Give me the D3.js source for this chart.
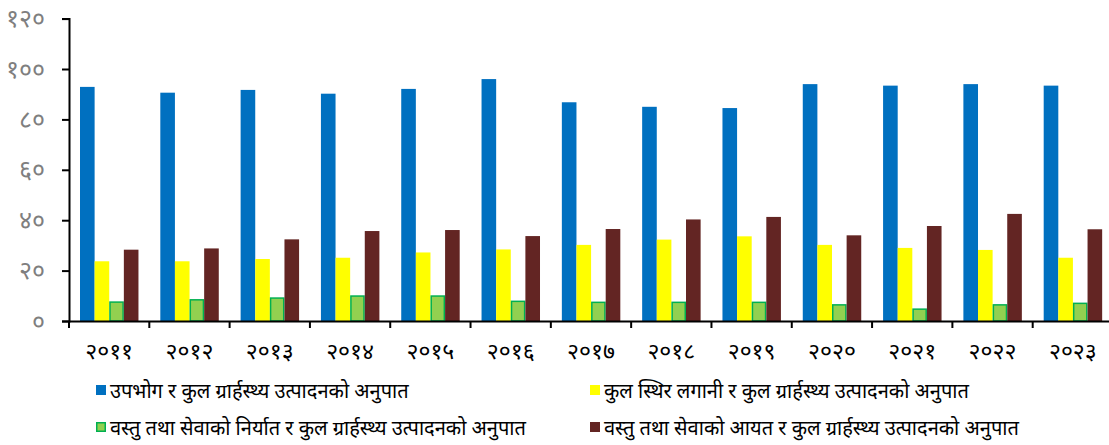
<!DOCTYPE html>
<html><head><meta charset="utf-8">
<script src="https://cdn.jsdelivr.net/npm/d3@7"></script>
<style>
html,body{margin:0;padding:0;background:#fff;}
svg{display:block;}
text{font-family:"Noto Sans","DejaVu Sans",sans-serif;}
</style></head>
<body><svg id="c" width="1109" height="445"></svg>
<script>
const years = ["२०११","२०१२","२०१३","२०१४","२०१५","२०१६","२०१७","२०१८","२०१९","२०२०","२०२१","२०२२","२०२३"];
const seriesNames = [
  "उपभोग र कुल ग्रार्हस्थ्य उत्पादनको अनुपात",
  "कुल स्थिर लगानी र कुल ग्रार्हस्थ्य उत्पादनको अनुपात",
  "वस्तु तथा सेवाको निर्यात र कुल ग्रार्हस्थ्य उत्पादनको अनुपात",
  "वस्तु तथा सेवाको आयत र कुल ग्रार्हस्थ्य उत्पादनको अनुपात"
];
const consumption = [92.9,90.6,91.7,90.2,92.1,96.0,86.8,85.0,84.5,94.0,93.4,94.0,93.4];
const investment  = [23.7,23.7,24.6,25.1,27.2,28.4,30.2,32.3,33.6,30.2,29.0,28.2,25.1];
const exports_    = [7.8,8.7,9.4,10.2,10.2,8.1,7.7,7.7,7.7,6.7,5.0,6.7,7.3];
const imports_    = [28.3,28.8,32.4,35.7,36.1,33.7,36.5,40.3,41.3,34.0,37.7,42.5,36.4];
const yTicks = [0,20,40,60,80,100,120];
const yTickLabels = ["०","२०","४०","६०","८०","१००","१२०"];

const fills = ["#0070C0","#FFFF00","#92D050","#632523"];
const strokes = [null,null,"#00B050",null];
const seriesVals = [consumption, investment, exports_, imports_];

const svg = d3.select("#c");
const x0 = d3.scaleBand().domain(years).range([69,1113]).paddingInner(0).paddingOuter(0);
const y = d3.scaleLinear().domain([0,120]).range([321,18.6]);
const bw = x0.bandwidth();
const x1 = d3.scaleBand().domain(d3.range(4)).range([bw*0.137, bw*0.865]).padding(0);

// bars
const g = svg.append("g");
years.forEach((yr,i)=>{
  const gg = g.append("g").attr("transform",`translate(${x0(yr)},0)`);
  seriesVals.forEach((vals,s)=>{
    const r = gg.append("rect")
      .attr("x", x1(s)).attr("width", x1.bandwidth())
      .attr("y", y(vals[i])).attr("height", y(0)-y(vals[i]))
      .attr("fill", fills[s]);
    if (strokes[s]) {
      r.attr("x", x1(s)+0.75).attr("width", x1.bandwidth()-1.5)
       .attr("y", y(vals[i])+0.75).attr("height", y(0)-y(vals[i])-0.75)
       .attr("stroke", strokes[s]).attr("stroke-width",1.5);
    }
  });
});

// y axis
const ya = svg.append("g").attr("transform","translate(69,0)")
  .call(d3.axisLeft(y).tickValues(yTicks).tickSize(7).tickFormat((d,i)=>yTickLabels[i]).tickPadding(17));
ya.select(".domain").attr("stroke","#000").attr("stroke-width",2);
ya.selectAll(".tick line").attr("stroke","#000").attr("stroke-width",2);
ya.selectAll(".tick text").attr("fill","#7f7f7f").style("font-size","25px");

// x axis
const xa = svg.append("g").attr("transform","translate(0,321)")
  .call(d3.axisBottom(x0).tickSize(0).tickPadding(22));
xa.select(".domain").attr("stroke","#000").attr("stroke-width",2);
xa.selectAll(".tick text").attr("fill","#000").style("font-size","23px");
// boundary ticks
svg.append("g").selectAll("line").data(years.concat(["end"])).join("line")
  .attr("x1",(d,i)=> i<years.length ? x0(d) : x0(years[years.length-1])+bw)
  .attr("x2",(d,i)=> i<years.length ? x0(d) : x0(years[years.length-1])+bw)
  .attr("y1",321).attr("y2",328).attr("stroke","#000").attr("stroke-width",2);

// legend
const legPos = [[96,390],[590,390],[96,427],[590,427]];
seriesNames.forEach((n,s)=>{
  const [lx,ly] = legPos[s];
  const r = svg.append("rect").attr("x",lx).attr("y",ly-5).attr("width",10).attr("height",10).attr("fill",fills[s]);
  if (strokes[s]) r.attr("x",lx+0.75).attr("y",ly-4.25).attr("width",8.5).attr("height",8.5).attr("stroke",strokes[s]).attr("stroke-width",1.5);
  svg.append("text").attr("x",lx+14).attr("y",ly).attr("dominant-baseline","central")
    .style("font-size","20px").attr("fill","#000").text(n);
});
</script></body></html>
